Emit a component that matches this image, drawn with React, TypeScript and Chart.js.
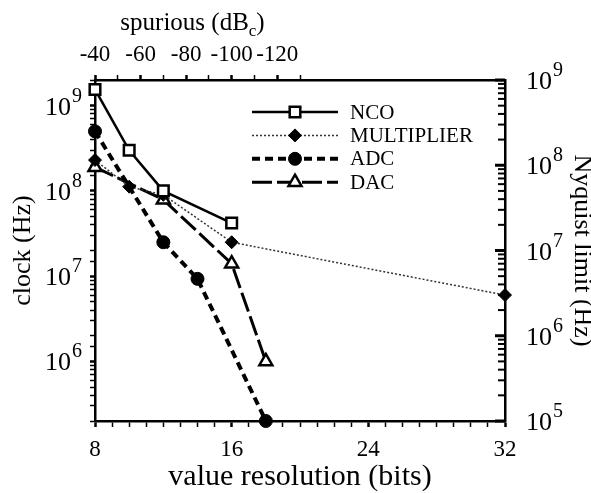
import React, { useEffect, useRef } from 'react';
import { Chart, registerables } from 'chart.js';

Chart.register(...registerables);

const FONT = "'Liberation Serif', 'Times New Roman', serif";

// ---- data ----
const ncoBits = [8, 10, 12, 16];
const ncoClock = [1.55e9, 3.0e8, 1.0e8, 4.2e7];
const multBits = [8, 10, 12, 16, 32];
const multClock = [2.3e8, 1.12e8, 9.0e7, 2.5e7, 6.0e6];
const adcBits = [8, 12, 14, 18];
const adcClock = [5.0e8, 2.5e7, 9.3e6, 2.0e5];
const dacBits = [8, 12, 16, 18];
const dacClock = [1.9e8, 7.9e7, 1.4e7, 1.0e6];

const seriesNames = ['NCO', 'MULTIPLIER', 'ADC', 'DAC'];

// ---- tick labels ----
const bitLabels = [8, 16, 24, 32];
const spurTicks = [40, 50, 60, 70, 80, 90, 100, 110, 120, 130];
const spurLabels = [40, 60, 80, 100, 120];
const clockExponents = [6, 7, 8, 9];
const nyquistExponents = [5, 6, 7, 8, 9];
const decadeMultipliers = [1, 2, 3, 4, 5, 6, 7, 8, 9];

const zip = (xs: number[], ys: number[]) => xs.map((x, i) => ({ x, y: ys[i] }));
const isDecade = (v: number) => {
  if (!v || v <= 0) return false;
  const l = Math.log10(v);
  return Math.abs(l - Math.round(l)) < 1e-6;
};

function drawMarker(ctx: CanvasRenderingContext2D, style: string, x: number, y: number, r: number, fill: string, bw: number) {
  ctx.save();
  ctx.beginPath();
  if (style === 'rect') {
    const s = Math.SQRT1_2 * r;
    ctx.rect(x - s, y - s, 2 * s, 2 * s);
  } else if (style === 'rectRot') {
    ctx.moveTo(x, y - r);
    ctx.lineTo(x + r, y);
    ctx.lineTo(x, y + r);
    ctx.lineTo(x - r, y);
    ctx.closePath();
  } else if (style === 'triangle') {
    let rad = 0;
    ctx.moveTo(x + Math.sin(rad) * r, y - Math.cos(rad) * r);
    rad += (2 * Math.PI) / 3;
    ctx.lineTo(x + Math.sin(rad) * r, y - Math.cos(rad) * r);
    rad += (2 * Math.PI) / 3;
    ctx.lineTo(x + Math.sin(rad) * r, y - Math.cos(rad) * r);
    ctx.closePath();
  } else {
    ctx.arc(x, y, r, 0, Math.PI * 2);
  }
  ctx.fillStyle = fill;
  ctx.fill();
  ctx.lineWidth = bw;
  ctx.strokeStyle = '#000';
  ctx.setLineDash([]);
  ctx.stroke();
  ctx.restore();
}

const overlayPlugin = {
  id: 'overlay',
  afterDraw(chart: any) {
    const { ctx, chartArea } = chart;
    const y = chart.scales.y;
    const y2 = chart.scales.y2;
    const x2 = chart.scales.x2;
    ctx.save();
    ctx.setLineDash([]);
    ctx.lineDashOffset = 0;
    ctx.globalAlpha = 1;
    ctx.fillStyle = '#000';
    ctx.strokeStyle = '#000';

    const baseFont = `26px ${FONT}`;
    const expFont = `20px ${FONT}`;

    // left log labels 10^n
    clockExponents.forEach((e) => {
      const py = y.getPixelForValue(Math.pow(10, e));
      const right = chartArea.left - 13;
      ctx.font = expFont;
      const ew = ctx.measureText(String(e)).width;
      ctx.textBaseline = 'alphabetic';
      ctx.textAlign = 'left';
      ctx.fillText(String(e), right - ew, py - 4);
      ctx.font = baseFont;
      ctx.textAlign = 'right';
      ctx.fillText('10', right - ew - 1, py + 9);
    });

    // right log labels 10^n
    nyquistExponents.forEach((e) => {
      const py = y2.getPixelForValue(Math.pow(10, e));
      const left = chartArea.right + 21;
      ctx.font = baseFont;
      ctx.textAlign = 'left';
      ctx.textBaseline = 'alphabetic';
      const bw = ctx.measureText('10').width;
      ctx.fillText('10', left, py + 9);
      ctx.font = expFont;
      ctx.fillText(String(e), left + bw + 1, py - 4);
    });

    // right axis ticks (inward), placed through the right scale
    const rightTicks: number[] = [];
    nyquistExponents.forEach((e, idx) => {
      if (idx === nyquistExponents.length - 1) {
        rightTicks.push(Math.pow(10, e));
      } else {
        decadeMultipliers.forEach((m) => rightTicks.push(m * Math.pow(10, e)));
      }
    });
    ctx.fillStyle = '#000';
    const axisX = chartArea.right;
    rightTicks.forEach((v) => {
      const py = y2.getPixelForValue(v);
      const major = isDecade(v);
      const len = major ? 10 : 7;
      const th = major ? 3 : 2;
      ctx.beginPath();
      ctx.rect(axisX - len, py - th / 2, len, th);
      ctx.fill();
    });

    // top title "spurious (dBc)"
    const p0 = x2.getPixelForValue(spurTicks[0]);
    const p1 = x2.getPixelForValue(spurTicks[spurTicks.length - 1]);
    const cx = (p0 + p1) / 2 - 5;
    const mainF = `25px ${FONT}`;
    const subF = `17px ${FONT}`;
    ctx.font = mainF;
    const wa = ctx.measureText('spurious (dB').width;
    const wc = ctx.measureText(')').width;
    ctx.font = subF;
    const ws = ctx.measureText('c').width;
    let sx = cx - (wa + ws + wc) / 2;
    ctx.textAlign = 'left';
    ctx.textBaseline = 'alphabetic';
    ctx.font = mainF;
    ctx.fillText('spurious (dB', sx, 30);
    sx += wa;
    ctx.font = subF;
    ctx.fillText('c', sx, 36);
    sx += ws;
    ctx.font = mainF;
    ctx.fillText(')', sx, 30);

    // legend
    const lx0 = chartArea.left + 157;
    const lx1 = chartArea.left + 243;
    const lmx = (lx0 + lx1) / 2;
    const ly0 = chartArea.top + 32;
    chart.data.datasets.forEach((ds: any, i: number) => {
      const ly = ly0 + i * 23.4;
      ctx.save();
      ctx.setLineDash(ds.borderDash || []);
      ctx.lineWidth = ds.borderWidth;
      ctx.strokeStyle = ds.borderColor;
      ctx.beginPath();
      ctx.moveTo(lx0, ly);
      ctx.lineTo(lx1, ly);
      ctx.stroke();
      ctx.restore();
      drawMarker(ctx, ds.pointStyle, lmx, ly, ds.pointRadius, ds.pointBackgroundColor, ds.pointBorderWidth);
      ctx.fillStyle = '#000';
      ctx.font = `21px ${FONT}`;
      ctx.textAlign = 'left';
      ctx.textBaseline = 'middle';
      ctx.fillText(ds.label, lx1 + 12, ly + 1);
    });

    ctx.restore();
  },
};

export default function App() {
  const canvasRef = useRef<HTMLCanvasElement | null>(null);

  useEffect(() => {
    if (!canvasRef.current) return;
    const black = '#000';
    const chart = new Chart(canvasRef.current, {
      type: 'line',
      data: {
        datasets: [
          {
            label: seriesNames[0],
            data: zip(ncoBits, ncoClock),
            borderColor: black,
            borderWidth: 2.5,
            pointStyle: 'rect',
            pointRadius: 7.5,
            pointBackgroundColor: '#fff',
            pointBorderColor: black,
            pointBorderWidth: 2.5,
            clip: false,
          } as any,
          {
            label: seriesNames[1],
            data: zip(multBits, multClock),
            borderColor: '#333',
            borderWidth: 1.5,
            borderDash: [2, 2],
            pointStyle: 'rectRot',
            pointRadius: 6.5,
            pointBackgroundColor: black,
            pointBorderColor: black,
            pointBorderWidth: 1,
            clip: false,
          } as any,
          {
            label: seriesNames[2],
            data: zip(adcBits, adcClock),
            borderColor: black,
            borderWidth: 4,
            borderDash: [8, 5],
            pointStyle: 'circle',
            pointRadius: 6.5,
            pointBackgroundColor: black,
            pointBorderColor: black,
            pointBorderWidth: 1,
            clip: false,
          } as any,
          {
            label: seriesNames[3],
            data: zip(dacBits, dacClock),
            borderColor: black,
            borderWidth: 3,
            borderDash: [20, 5],
            pointStyle: 'triangle',
            pointRadius: 7.5,
            pointBackgroundColor: '#fff',
            pointBorderColor: black,
            pointBorderWidth: 2.5,
            clip: false,
          } as any,
        ],
      },
      options: {
        animation: false,
        responsive: true,
        maintainAspectRatio: false,
        events: [],
        layout: { padding: 0 },
        plugins: { legend: { display: false }, tooltip: { enabled: false } },
        elements: { line: { tension: 0 } },
        scales: {
          x: {
            type: 'linear',
            position: 'bottom',
            min: 8,
            max: 32,
            ticks: {
              stepSize: 1,
              autoSkip: false,
              maxRotation: 0,
              callback: (v: any) => (bitLabels.includes(Number(v)) ? String(v) : ''),
              font: { family: FONT, size: 23 },
              color: black,
              padding: 9,
            },
            grid: {
              drawOnChartArea: false,
              tickLength: 6,
              tickColor: black,
              tickWidth: (c: any) => (c.tick && bitLabels.includes(c.tick.value) ? 2.5 : 1.5),
            },
            border: { display: true, color: black, width: 2.5 },
            title: {
              display: true,
              text: 'value resolution (bits)',
              font: { family: FONT, size: 30 },
              color: black,
              padding: { top: 0, bottom: -2 },
            },
            afterFit: (s: any) => {
              s.height = 72;
            },
          },
          x2: {
            type: 'linear',
            position: 'top',
            min: 40,
            max: 220,
            afterBuildTicks: (s: any) => {
              s.ticks = spurTicks.map((v) => ({ value: v }));
            },
            ticks: {
              autoSkip: false,
              maxRotation: 0,
              callback: (v: any) => (spurLabels.includes(Number(v)) ? '-' + v : ''),
              font: { family: FONT, size: 23 },
              color: black,
              padding: 6,
            },
            grid: {
              drawOnChartArea: false,
              tickLength: 5,
              tickColor: black,
              tickWidth: (c: any) => (c.tick && spurLabels.includes(c.tick.value) ? 2.5 : 1.5),
            },
            border: { display: true, color: black, width: 2.5 },
            afterFit: (s: any) => {
              s.height = 80;
            },
          },
          y: {
            type: 'logarithmic',
            position: 'left',
            min: 2e5,
            max: 2e9,
            ticks: { display: false },
            grid: {
              drawOnChartArea: false,
              tickLength: 5,
              tickColor: black,
              tickWidth: (c: any) => (c.tick && isDecade(c.tick.value) ? 2.5 : 1.5),
            },
            border: { display: true, color: black, width: 2.5 },
            title: {
              display: true,
              text: 'clock (Hz)',
              font: { family: FONT, size: 26 },
              color: black,
              padding: { top: 8, bottom: 0 },
            },
            afterFit: (s: any) => {
              s.width = 95;
            },
          },
          y2: {
            type: 'logarithmic',
            position: 'right',
            min: 1e5,
            max: 1e9,
            ticks: { display: false },
            grid: { drawOnChartArea: false, drawTicks: false },
            border: { display: true, color: black, width: 2.5 },
            title: {
              display: true,
              text: 'Nyquist limit (Hz)',
              font: { family: FONT, size: 26 },
              color: black,
              padding: { top: -6, bottom: 0 },
            },
            afterFit: (s: any) => {
              s.width = 86;
            },
          },
        },
      } as any,
      plugins: [overlayPlugin],
    });
    return () => chart.destroy();
  }, []);

  return (
    <div style={{ position: 'fixed', left: 0, top: 0, width: 591, height: 493, background: '#fff' }}>
      <canvas ref={canvasRef} />
    </div>
  );
}
